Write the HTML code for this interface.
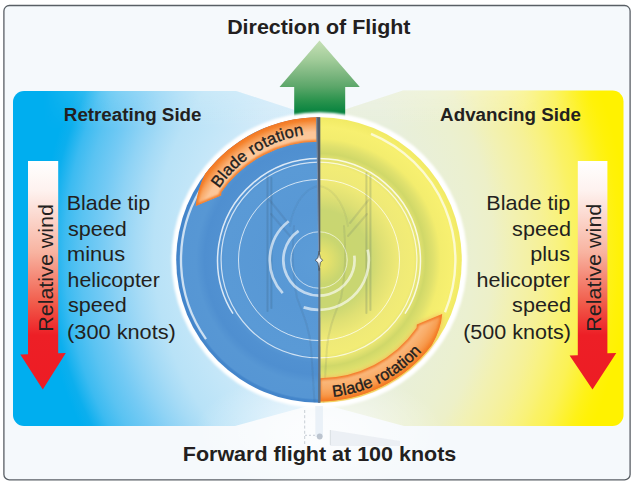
<!DOCTYPE html>
<html>
<head>
<meta charset="utf-8">
<title>Dissymmetry of lift</title>
<style>
html,body{margin:0;padding:0;background:#ffffff;}
body{width:634px;height:486px;overflow:hidden;font-family:"Liberation Sans",sans-serif;}
svg{display:block;position:absolute;left:0;top:0;}
text{font-family:"Liberation Sans",sans-serif;fill:#231f20;}
.b{font-weight:bold;}
</style>
</head>
<body>
<svg width="634" height="486" viewBox="0 0 634 486">
<defs>
  <radialGradient id="gL" gradientUnits="userSpaceOnUse" cx="430" cy="252" r="410">
    <stop offset="0" stop-color="#dff1fa"/>
    <stop offset="0.34" stop-color="#dcf0fa"/>
    <stop offset="0.525" stop-color="#d0eaf9"/>
    <stop offset="0.603" stop-color="#c3e6f8"/>
    <stop offset="0.674" stop-color="#b8e2f7"/>
    <stop offset="0.717" stop-color="#a6dbf6"/>
    <stop offset="0.761" stop-color="#8fd3f5"/>
    <stop offset="0.805" stop-color="#74caf4"/>
    <stop offset="0.852" stop-color="#5ac3f2"/>
    <stop offset="0.891" stop-color="#3cbbf1"/>
    <stop offset="0.927" stop-color="#0cafee"/>
    <stop offset="0.952" stop-color="#00aeef"/>
    <stop offset="1" stop-color="#00aeef"/>
  </radialGradient>
  <radialGradient id="gR" gradientUnits="userSpaceOnUse" cx="180" cy="250" r="455">
    <stop offset="0" stop-color="#e8efdc"/>
    <stop offset="0.537" stop-color="#e8efdc"/>
    <stop offset="0.646" stop-color="#ebf0d0"/>
    <stop offset="0.688" stop-color="#edf0c8"/>
    <stop offset="0.734" stop-color="#f2f1b2"/>
    <stop offset="0.767" stop-color="#f4f1a4"/>
    <stop offset="0.796" stop-color="#f6f196"/>
    <stop offset="0.822" stop-color="#f8f285"/>
    <stop offset="0.844" stop-color="#f9f276"/>
    <stop offset="0.862" stop-color="#faf266"/>
    <stop offset="0.888" stop-color="#fbf255"/>
    <stop offset="0.921" stop-color="#fdf230"/>
    <stop offset="0.943" stop-color="#fef218"/>
    <stop offset="0.965" stop-color="#fff208"/>
    <stop offset="0.987" stop-color="#fff200"/>
    <stop offset="1" stop-color="#fff200"/>
  </radialGradient>
  <linearGradient id="gMaskH" gradientUnits="userSpaceOnUse" x1="13" y1="0" x2="621" y2="0">
    <stop offset="0" stop-color="#000000"/>
    <stop offset="0.05" stop-color="#000000"/>
    <stop offset="0.16" stop-color="#ffffff"/>
    <stop offset="0.84" stop-color="#ffffff"/>
    <stop offset="0.95" stop-color="#000000"/>
    <stop offset="1" stop-color="#000000"/>
  </linearGradient>
  <mask id="mTop" maskUnits="userSpaceOnUse" x="0" y="0" width="634" height="486"><rect x="0" y="0" width="634" height="486" fill="url(#gMaskH)"/></mask>
  <linearGradient id="gTop" gradientUnits="userSpaceOnUse" x1="0" y1="90" x2="0" y2="130">
    <stop offset="0" stop-color="#ffffff" stop-opacity="0.24"/>
    <stop offset="0.5" stop-color="#ffffff" stop-opacity="0.12"/>
    <stop offset="1" stop-color="#ffffff" stop-opacity="0"/>
  </linearGradient>
  <radialGradient id="gGlow">
    <stop offset="0" stop-color="#ffffff" stop-opacity="0.65"/>
    <stop offset="0.25" stop-color="#ffffff" stop-opacity="0.58"/>
    <stop offset="0.55" stop-color="#ffffff" stop-opacity="0.32"/>
    <stop offset="1" stop-color="#ffffff" stop-opacity="0"/>
  </radialGradient>
  <linearGradient id="gG" gradientUnits="userSpaceOnUse" x1="0" y1="40.5" x2="0" y2="113">
    <stop offset="0" stop-color="#c6e0b6"/>
    <stop offset="0.27" stop-color="#a0cb98"/>
    <stop offset="0.48" stop-color="#7ab57e"/>
    <stop offset="0.64" stop-color="#5ba669"/>
    <stop offset="0.82" stop-color="#2c944e"/>
    <stop offset="1" stop-color="#05823e"/>
  </linearGradient>
  <linearGradient id="gRed" gradientUnits="userSpaceOnUse" x1="0" y1="161" x2="0" y2="390">
    <stop offset="0" stop-color="#ffffff"/>
    <stop offset="0.13" stop-color="#fef2ef"/>
    <stop offset="0.40" stop-color="#f8b3a0"/>
    <stop offset="0.62" stop-color="#f15c4b"/>
    <stop offset="0.76" stop-color="#ed1f26"/>
    <stop offset="1" stop-color="#ed1c24"/>
  </linearGradient>
  <radialGradient id="gBlue" gradientUnits="userSpaceOnUse" cx="319" cy="260" r="143">
    <stop offset="0" stop-color="#5c9cd7"/>
    <stop offset="0.35" stop-color="#5898d5"/>
    <stop offset="0.66" stop-color="#5a9ad6"/>
    <stop offset="0.72" stop-color="#5191d1"/>
    <stop offset="0.80" stop-color="#4f8fd0"/>
    <stop offset="0.86" stop-color="#5797d4"/>
    <stop offset="0.968" stop-color="#5696d4"/>
    <stop offset="0.98" stop-color="#4486cb"/>
    <stop offset="1" stop-color="#4283c9"/>
  </radialGradient>
  <radialGradient id="gYel" gradientUnits="userSpaceOnUse" cx="319" cy="260" r="143">
    <stop offset="0" stop-color="#ebe56b"/>
    <stop offset="0.06" stop-color="#e6e26c"/>
    <stop offset="0.17" stop-color="#c9d670"/>
    <stop offset="0.35" stop-color="#c9d672"/>
    <stop offset="0.45" stop-color="#dfe074"/>
    <stop offset="0.55" stop-color="#eee977"/>
    <stop offset="0.66" stop-color="#f2ec76"/>
    <stop offset="0.70" stop-color="#e6e472"/>
    <stop offset="0.745" stop-color="#d0d869"/>
    <stop offset="0.80" stop-color="#e0e16d"/>
    <stop offset="0.85" stop-color="#f3ed6e"/>
    <stop offset="0.93" stop-color="#f7f070"/>
    <stop offset="1" stop-color="#f1ea64"/>
  </radialGradient>
  <radialGradient id="gOr2" gradientUnits="userSpaceOnUse" cx="319" cy="260" r="143">
    <stop offset="0.822" stop-color="#f9b67c"/>
    <stop offset="0.86" stop-color="#fab577"/>
    <stop offset="0.90" stop-color="#f9ab66"/>
    <stop offset="0.94" stop-color="#f79b4e"/>
    <stop offset="0.975" stop-color="#f58430"/>
    <stop offset="1" stop-color="#f47a24"/>
  </radialGradient>
  <radialGradient id="gOr" gradientUnits="userSpaceOnUse" cx="319" cy="260" r="143">
    <stop offset="0.822" stop-color="#f9b47c"/>
    <stop offset="0.85" stop-color="#fcc89b"/>
    <stop offset="0.895" stop-color="#fcc597"/>
    <stop offset="0.935" stop-color="#f9ab6b"/>
    <stop offset="0.975" stop-color="#f58733"/>
    <stop offset="1" stop-color="#f47a24"/>
  </radialGradient>
  <clipPath id="cb1"><path d="M 319.0 117.2 A 142.8 142.8 0 0 0 205.0 174.1 Q 196.9 190.9 195.8 205.9 L 221.2 195.5 L 221.4 192.2 A 118.2 118.2 0 0 1 319.0 141.8 Z"/></clipPath>
  <clipPath id="cb2"><path d="M 319.0 401.4 A 141.4 141.4 0 0 0 431.9 345.1 Q 441.1 329.1 442.2 314.1 L 416.8 324.5 L 416.6 327.8 A 118.2 118.2 0 0 1 319.0 378.2 Z"/></clipPath>
  <filter id="bl" x="-20%" y="-20%" width="140%" height="140%"><feGaussianBlur stdDeviation="1.3"/></filter>
  <filter id="bl3" x="-20%" y="-20%" width="140%" height="140%"><feGaussianBlur stdDeviation="2.6"/></filter>
  <filter id="bl4" x="-20%" y="-20%" width="140%" height="140%"><feGaussianBlur stdDeviation="0.5"/></filter>
  <filter id="bl2" x="-5%" y="-5%" width="110%" height="110%"><feGaussianBlur stdDeviation="0.9"/></filter>
  <clipPath id="cDR"><path d="M 320.5 117 A 142.8 142.8 0 0 1 320.5 403 Z"/></clipPath>
  <clipPath id="cL"><rect x="0" y="0" width="320" height="486"/></clipPath>
  <clipPath id="cR"><rect x="320" y="0" width="314" height="486"/></clipPath>
  <path id="tp1" d="M 219.2 188.6 A 125.5 125.5 0 0 1 323 133.5"/>
  <path id="tp2" d="M 333 396.8 A 137.5 137.5 0 0 0 430 341"/>
</defs>

<!-- outer frame -->
<rect x="3.9" y="5.5" width="626.2" height="474.4" rx="5.5" ry="5.5" fill="#f5f9fc" stroke="#595f65" stroke-width="1.3"/>

<!-- side panels -->
<path d="M 24 91 L 236 91 L 319 118 L 319 403 L 235 426 L 24 426 A 11 11 0 0 1 13 415 L 13 102 A 11 11 0 0 1 24 91 Z" fill="url(#gL)"/>
<path d="M 612.5 90.5 L 403 90.5 L 319 118 L 319 403 L 404 426 L 612.5 426 A 11 11 0 0 0 623.5 415 L 623.5 101.5 A 11 11 0 0 0 612.5 90.5 Z" fill="url(#gR)"/>
<g mask="url(#mTop)">
<path d="M 24 91 L 236 91 L 319 118 L 319 403 L 235 426 L 24 426 A 11 11 0 0 1 13 415 L 13 102 A 11 11 0 0 1 24 91 Z" fill="url(#gTop)"/>
<path d="M 612.5 90.5 L 403 90.5 L 319 118 L 319 403 L 404 426 L 612.5 426 A 11 11 0 0 0 623.5 415 L 623.5 101.5 A 11 11 0 0 0 612.5 90.5 Z" fill="url(#gTop)"/>
</g>

<!-- pale glow below the disc -->
<ellipse cx="319" cy="432" rx="125" ry="60" fill="url(#gGlow)"/>

<!-- green arrow -->
<path d="M 319.5 40.5 L 359.8 87 L 345.2 87 L 345.2 125 L 294.2 125 L 294.2 87 L 279.5 87 Z" fill="url(#gG)"/>

<!-- disc -->
<circle cx="319.4" cy="260" r="147.8" fill="#ffffff" filter="url(#bl2)"/>
<circle cx="319" cy="260" r="142.8" fill="url(#gBlue)" clip-path="url(#cL)"/>
<circle cx="319" cy="260" r="142.8" fill="url(#gYel)" clip-path="url(#cR)"/>

<!-- rings -->
<g fill="none" stroke="#ffffff">
  <circle cx="319" cy="260" r="28.2" stroke-width="0.9" stroke-opacity="0.7"/>
  <circle cx="319" cy="260" r="80.5" stroke-width="1" stroke-opacity="0.72"/>
  <circle cx="319" cy="260" r="97.9" stroke-width="1.2" stroke-opacity="0.72"/>
</g>

<!-- helicopter silhouette (faint) -->
<g fill="none" stroke="#34465a" stroke-opacity="0.18" stroke-width="2" stroke-linecap="round" filter="url(#bl4)">
  <path d="M 267.5 175 L 267.5 311 M 271.4 178 L 271.4 308"/>
  <path d="M 366.4 173 L 366.4 313 M 370.4 176 L 370.4 310"/>
  <path d="M 269.5 200 L 288 223 M 271 214 L 290 236" stroke-opacity="0.13"/>
  <path d="M 368.5 200 L 350 223 M 367 214 L 348 236" stroke-opacity="0.13"/>
  <path d="M 290 226 C 294 200 308 187 319 186 C 330 187 344 200 348 226" stroke-opacity="0.07"/>
  <path d="M 294 226 C 292 250 293 278 297 298 C 303 314 309 327 311 347 L 314.5 402" stroke-opacity="0.11"/>
  <path d="M 344 226 C 346 250 345 278 341 298 C 335 314 329 327 327 347 L 323.5 402" stroke-opacity="0.11"/>
</g>

<!-- thick arcs -->
<g fill="none" stroke="#ffffff" stroke-linecap="butt">
  <path d="M 298.6 230.8 A 35.6 35.6 0 1 0 354.3 255.7" stroke-width="2.7" stroke-opacity="0.62"/>
  <path d="M 288.7 221.2 A 49.2 49.2 0 0 0 282.7 293.2" stroke-width="2.7" stroke-opacity="0.62"/>
  <path d="M 303.6 307.4 A 49.8 49.8 0 0 0 367.7 249.6" stroke-width="2.7" stroke-opacity="0.62"/>
  <path d="M 199.5 191.0 A 138 138 0 0 0 206.0 339.2" stroke-width="2.3" stroke-opacity="0.7"/>
  <path d="M 445.0 312.2 A 136.4 136.4 0 0 0 371.0 133.9" stroke-width="2.4" stroke-opacity="0.68"/>
  <path d="M 405.0 313.7 A 101.4 101.4 0 1 0 233.0 313.7" stroke-width="1.5" stroke-opacity="0.8"/>
</g>

<!-- orange bands -->
<g clip-path="url(#cb1)">
  <path d="M 319.0 117.2 A 142.8 142.8 0 0 0 205.0 174.1 Q 196.9 190.9 195.8 205.9 L 221.2 195.5 L 221.4 192.2 A 118.2 118.2 0 0 1 319.0 141.8 Z" fill="url(#gOr)"/>
  <path d="M 319.0 117.2 A 142.8 142.8 0 0 0 205.0 174.1 Q 196.9 190.9 195.8 205.9 L 221.2 195.5 L 221.4 192.2 A 118.2 118.2 0 0 1 319.0 141.8 Z" fill="none" stroke="#f37a26" stroke-width="3.6" filter="url(#bl)"/>
</g>
<path d="M 319.0 401.4 A 141.4 141.4 0 0 0 431.9 345.1 Q 441.1 329.1 442.2 314.1 L 416.8 324.5 L 416.6 327.8 A 118.2 118.2 0 0 1 319.0 378.2 Z" fill="#f5a356" fill-opacity="0.85" filter="url(#bl3)" clip-path="url(#cDR)"/>
<g clip-path="url(#cb2)">
  <path d="M 319.0 401.4 A 141.4 141.4 0 0 0 431.9 345.1 Q 441.1 329.1 442.2 314.1 L 416.8 324.5 L 416.6 327.8 A 118.2 118.2 0 0 1 319.0 378.2 Z" fill="url(#gOr2)"/>
  <path d="M 319.0 401.4 A 141.4 141.4 0 0 0 431.9 345.1 Q 441.1 329.1 442.2 314.1 L 416.8 324.5 L 416.6 327.8 A 118.2 118.2 0 0 1 319.0 378.2 Z" fill="none" stroke="#f37a26" stroke-width="3.6" filter="url(#bl)"/>
</g>
<text font-size="16.4" textLength="103" lengthAdjust="spacing" stroke="#231f20" stroke-width="0.35"><textPath href="#tp1">Blade rotation</textPath></text>
<text font-size="16.4" textLength="102" lengthAdjust="spacing" stroke="#231f20" stroke-width="0.35"><textPath href="#tp2">Blade rotation</textPath></text>

<!-- centre line (blade edge-on) + hub -->
<path d="M 316.3 117.2 L 320.3 117.2 L 320.3 252 L 318.4 252 Z" fill="#515c68"/>
<path d="M 316.7 117.5 L 318.6 252" stroke="#7f9cc2" stroke-width="0.9" fill="none" stroke-opacity="0.85"/>
<path d="M 318.4 268 L 320.3 268 L 320.6 402.8 L 318.1 402.8 Z" fill="#5f7186"/>
<path d="M 319 251.3 L 320.3 257.8 L 322.6 260.2 L 320.3 262.6 L 319.2 270.6 L 317.9 262.6 L 315.2 260.2 L 317.9 257.8 Z" fill="#f1f4f7" stroke="#4a525c" stroke-width="0.9" stroke-linejoin="round"/>

<!-- faint tail below disc -->
<rect x="315.3" y="406" width="7.6" height="31" fill="#dfe9f3" fill-opacity="0.6"/>
<path d="M 330.3 430 L 400 441 L 400 446 L 330.3 446 Z" fill="#e3e8ee" fill-opacity="0.6"/>
<g fill="none" stroke="#aab3bd" stroke-opacity="0.7" stroke-width="0.9">
  <path d="M 304.7 410 L 304.7 444" stroke-dasharray="3 2.2"/>
  <path d="M 305 435.3 L 316 435.3" stroke-dasharray="2 2"/>
  <path d="M 330.3 430 L 330.3 445" stroke-opacity="0.4"/>
</g>
<circle cx="319.7" cy="436.5" r="2.9" fill="#b6bfca" fill-opacity="0.9"/>

<!-- red arrows -->
<path d="M 28 161 L 58.2 161 L 58.2 353.3 L 65.8 353 L 42.8 389.6 L 20.3 354.5 L 28 354.2 Z" fill="url(#gRed)"/>
<path d="M 577.8 161 L 607.4 161 L 607.4 353.3 L 616.3 353 L 592.5 389.6 L 569.6 355.6 L 577.8 355.2 Z" fill="url(#gRed)"/>

<!-- text -->
<text class="b" x="227.15" y="34.40" font-size="20.8" textLength="183.31" lengthAdjust="spacingAndGlyphs">Direction of Flight</text>
<text class="b" x="182.75" y="460.80" font-size="20.8" textLength="273.56" lengthAdjust="spacingAndGlyphs">Forward flight at 100 knots</text>
<text class="b" x="63.83" y="120.80" font-size="17.5" textLength="137.68" lengthAdjust="spacingAndGlyphs">Retreating Side</text>
<text class="b" x="440.13" y="120.80" font-size="17.5" textLength="140.71" lengthAdjust="spacingAndGlyphs">Advancing Side</text>
<text x="66.73" y="210.00" font-size="20.3" textLength="83.46" lengthAdjust="spacingAndGlyphs">Blade tip</text>
<text x="67.91" y="236.00" font-size="20.3" textLength="58.79" lengthAdjust="spacingAndGlyphs">speed</text>
<text x="67.03" y="261.00" font-size="20.3" textLength="58.13" lengthAdjust="spacingAndGlyphs">minus</text>
<text x="67.61" y="286.60" font-size="20.3" textLength="92.13" lengthAdjust="spacingAndGlyphs">helicopter</text>
<text x="67.91" y="312.20" font-size="20.3" textLength="58.79" lengthAdjust="spacingAndGlyphs">speed</text>
<text x="67.14" y="338.50" font-size="20.3" textLength="108.72" lengthAdjust="spacingAndGlyphs">(300 knots)</text>
<text x="486.32" y="210.00" font-size="20.3" textLength="84.08" lengthAdjust="spacingAndGlyphs">Blade tip</text>
<text x="512.11" y="236.00" font-size="20.3" textLength="58.79" lengthAdjust="spacingAndGlyphs">speed</text>
<text x="530.30" y="261.00" font-size="20.3" textLength="39.65" lengthAdjust="spacingAndGlyphs">plus</text>
<text x="476.59" y="286.60" font-size="20.3" textLength="93.25" lengthAdjust="spacingAndGlyphs">helicopter</text>
<text x="512.11" y="312.20" font-size="20.3" textLength="58.79" lengthAdjust="spacingAndGlyphs">speed</text>
<text x="463.15" y="338.50" font-size="20.3" textLength="107.69" lengthAdjust="spacingAndGlyphs">(500 knots)</text>
<text transform="translate(52.50 330.10) rotate(-90)" x="-1.77" y="0" font-size="20.3" textLength="127.92" lengthAdjust="spacingAndGlyphs">Relative wind</text>
<text transform="translate(600.70 330.00) rotate(-90)" x="-1.78" y="0" font-size="20.3" textLength="128.12" lengthAdjust="spacingAndGlyphs">Relative wind</text>
</svg>
</body>
</html>
